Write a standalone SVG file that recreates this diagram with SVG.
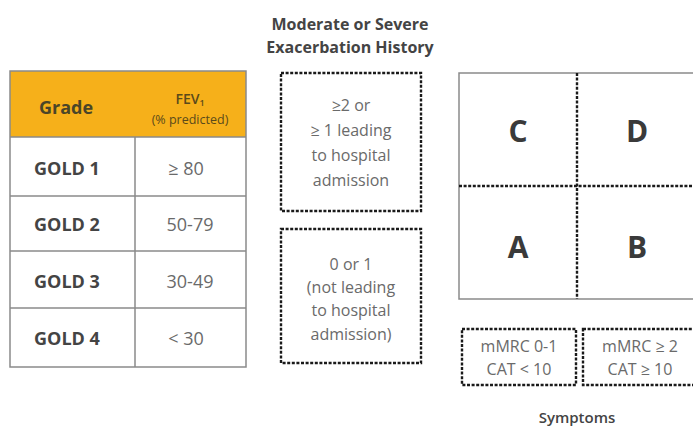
<svg xmlns="http://www.w3.org/2000/svg" width="693" height="427" viewBox="0 0 693 427">
<style>
text{font-family:"Open Sans","Liberation Sans",sans-serif;text-anchor:middle}
.b{font-weight:700;fill:#444}
.n{fill:#6a6a6a;font-size:16px}
.grid{stroke:#8a8a8a;stroke-width:1.5;fill:none}
.dot{stroke:#1a1a1a;stroke-width:2.4;stroke-dasharray:3 1.6;fill:none}
.big{font-size:30px;font-weight:700;fill:#3a3a3a}
.g{font-size:18px}
</style>
<rect width="693" height="427" fill="#fff"/>
<g id="table">
<rect x="10" y="71" width="236" height="66" fill="#F6B01A"/>
<rect x="10" y="71" width="236" height="296" class="grid"/>
<line x1="10" y1="137" x2="246" y2="137" class="grid"/>
<line x1="10" y1="196" x2="246" y2="196" class="grid"/>
<line x1="10" y1="251" x2="246" y2="251" class="grid"/>
<line x1="10" y1="308" x2="246" y2="308" class="grid"/>
<line x1="135" y1="137" x2="135" y2="367" class="grid"/>
<text x="66" y="114" class="b g" style="fill:#4a4528">Grade</text>
<text x="190" y="104" style="font-size:14px;font-weight:600;fill:#5a4a1a">FEV<tspan font-size="9" dy="2">1</tspan></text>
<text x="190" y="124" style="font-size:12.5px;fill:#5a4a1a">(% predicted)</text>
<text x="67" y="175" class="b g">GOLD 1</text>
<text x="186" y="175" class="n g">≥ 80</text>
<text x="67" y="231" class="b g">GOLD 2</text>
<text x="190" y="231" class="n g">50-79</text>
<text x="67" y="288" class="b g">GOLD 3</text>
<text x="190" y="288" class="n g">30-49</text>
<text x="67" y="345" class="b g">GOLD 4</text>
<text x="186" y="345" class="n g">&lt; 30</text>
</g>
<g id="history-title">
<text x="350" y="30" class="b" style="font-size:16px">Moderate or Severe</text>
<text x="350" y="53" class="b" style="font-size:16px">Exacerbation History</text>
</g>
<g id="hist-high">
<rect x="281" y="73" width="140" height="138" class="dot"/>
<text x="351" y="111" class="n">≥2 or</text>
<text x="351" y="136" class="n">≥ 1 leading</text>
<text x="351" y="161" class="n">to hospital</text>
<text x="351" y="186" class="n">admission</text>
</g>
<g id="hist-low">
<rect x="281" y="229" width="140" height="134" class="dot"/>
<text x="351" y="270" class="n">0 or 1</text>
<text x="351" y="293" class="n">(not leading</text>
<text x="351" y="316" class="n">to hospital</text>
<text x="351" y="340" class="n">admission)</text>
</g>
<g id="quadrants">
<path d="M700 73 H459 V299 H700" class="grid"/>
<line x1="577" y1="73" x2="577" y2="299" class="dot"/>
<line x1="459" y1="186" x2="700" y2="186" class="dot"/>
<text x="518" y="142" class="big">C</text>
<text x="637" y="142" class="big">D</text>
<text x="518" y="258" class="big">A</text>
<text x="637" y="258" class="big">B</text>
</g>
<g id="sym-low">
<rect x="462" y="329" width="114" height="56" class="dot"/>
<text x="519" y="352" class="n">mMRC 0-1</text>
<text x="519" y="375" class="n">CAT &lt; 10</text>
</g>
<g id="sym-high">
<rect x="583" y="329" width="120" height="56" class="dot"/>
<text x="640" y="352" class="n">mMRC ≥ 2</text>
<text x="640" y="375" class="n">CAT ≥ 10</text>
</g>
<text x="577" y="423" class="b" style="font-size:15px;font-weight:600">Symptoms</text>
</svg>
